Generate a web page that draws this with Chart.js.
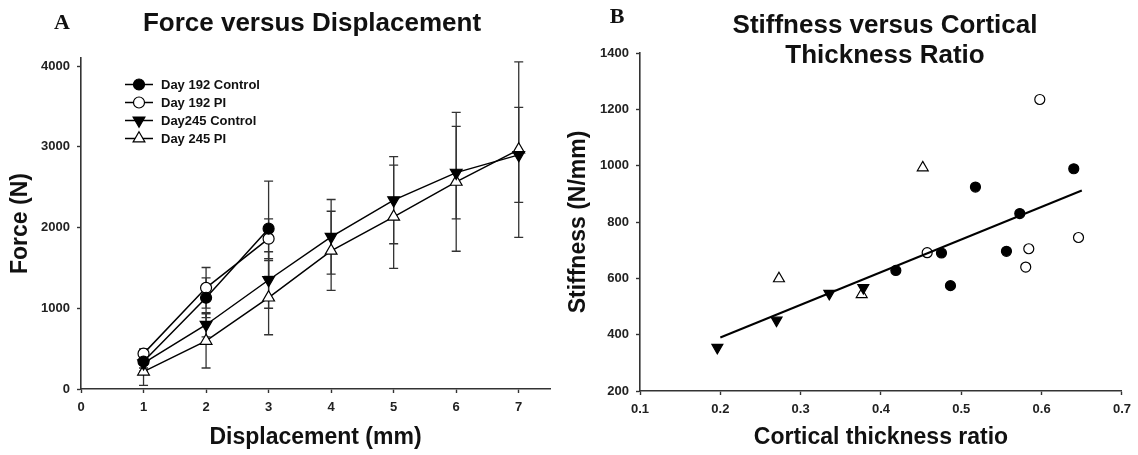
<!DOCTYPE html>
<html>
<head>
<meta charset="utf-8">
<script src="https://cdn.jsdelivr.net/npm/chart.js"></script>
<style>
  body { margin: 0; background: #fff; overflow: hidden; }
  canvas { position: absolute; top: 0; }
  #chartA { left: 0; }
  #chartB { left: 560px; }
</style>
</head>
<body>
<canvas id="chartA" width="560" height="455"></canvas>
<canvas id="chartB" width="578" height="455"></canvas>
<script>
// --- panel A: force vs displacement (mean +/- error) ---
const displacement = [1, 2, 3, 4, 5, 6, 7];
const day192Control = [340, 1130, 1986];
const day192ControlErr = [80, 246, 590];
const day192PI = [438, 1253, 1862];
const day192PIErr = [60, 252, 246];
const day245Control = [320, 796, 1350, 1885, 2339, 2680, 2900];
const day245ControlErr = [100, 150, 350, 462, 540, 573, 588];
const day245PI = [215, 596, 1132, 1712, 2133, 2566, 2966];
const day245PIErr = [170, 336, 460, 490, 640, 860, 1087];
const forceTicks = [0, 1000, 2000, 3000, 4000];
const dispTicks = [0, 1, 2, 3, 4, 5, 6, 7];

// --- panel B: stiffness vs cortical thickness ratio ---
const ctrl192Ratio = [0.4185, 0.4753, 0.4865, 0.5176, 0.5562, 0.5728, 0.64];
const ctrl192Stiff = [628, 690, 574, 924, 696, 830, 989];
const pi192Ratio = [0.4575, 0.5802, 0.584, 0.5977, 0.6459];
const pi192Stiff = [691, 640, 705, 1235, 745];
const ctrl245Ratio = [0.1963, 0.27, 0.3357, 0.378];
const ctrl245Stiff = [354, 451, 546, 567];
const pi245Ratio = [0.273, 0.376, 0.452];
const pi245Stiff = [599, 543, 993];
const fitRatio = [0.2, 0.65];
const fitStiff = [390, 912];
const stiffTicks = [200, 400, 600, 800, 1000, 1200, 1400];
const ratioTicks = [0.1, 0.2, 0.3, 0.4, 0.5, 0.6, 0.7];

const FONT = '"Liberation Sans", Arial, sans-serif';
const INK = '#111';
const AXIS = '#333';

const pts = (xs, ys) => ys.map((y, i) => ({ x: xs[i], y }));

// marker styles shared by both panels and the legend
const styles = {
  ctrl192: { shape: 'circle', rot: 0, fill: '#000' },
  pi192: { shape: 'circle', rot: 0, fill: '#fff' },
  ctrl245: { shape: 'triangle', rot: 180, fill: '#000' },
  pi245: { shape: 'triangle', rot: 0, fill: '#fff' },
};

function drawMarker(ctx, st, x, y, r) {
  ctx.beginPath();
  if (st.shape === 'circle') {
    ctx.arc(x, y, r, 0, Math.PI * 2);
  } else {
    let a = st.rot * Math.PI / 180;
    for (let k = 0; k < 3; k++) {
      const px = x + Math.sin(a) * r, py = y - Math.cos(a) * r;
      k ? ctx.lineTo(px, py) : ctx.moveTo(px, py);
      a += Math.PI * 2 / 3;
    }
    ctx.closePath();
  }
  ctx.fillStyle = st.fill;
  ctx.fill();
  ctx.lineWidth = 1.2;
  ctx.strokeStyle = '#000';
  ctx.stroke();
}

function series(label, data, st, radius, errors, line) {
  return {
    label, data, errors, legendStyle: st,
    showLine: line,
    borderColor: '#000',
    borderWidth: 1.5,
    pointStyle: st.shape,
    pointRotation: st.rot,
    pointRadius: st.shape === 'circle' ? radius : radius + 1.3,
    pointBackgroundColor: st.fill,
    pointBorderColor: '#000',
    pointBorderWidth: 1.2,
    tension: 0,
  };
}

function axis(min, max, ticks, title, size) {
  return {
    type: 'linear',
    min, max,
    afterBuildTicks: s => { s.ticks = ticks.map(v => ({ value: v })); },
    afterFit: s => { if (size.w) s.width = size.w; if (size.h) s.height = size.h; },
    border: { color: AXIS, width: 1.6 },
    grid: { drawOnChartArea: false, drawTicks: true, tickLength: 4, tickColor: AXIS, tickWidth: 1.4 },
    ticks: { color: '#222', font: { family: FONT, size: 13, weight: 'bold' }, padding: 7,
             callback: v => String(v) },
    title: { display: true, text: title, color: INK, padding: 0,
             font: { family: FONT, size: 23, weight: 'bold' } },
  };
}

// error bars behind markers
const errorBars = {
  id: 'errorBars',
  beforeDatasetsDraw(chart) {
    const ctx = chart.ctx, ys = chart.scales.y;
    ctx.save();
    ctx.strokeStyle = AXIS;
    ctx.lineWidth = 1.3;
    chart.data.datasets.forEach((ds, i) => {
      if (!ds.errors) return;
      chart.getDatasetMeta(i).data.forEach((el, j) => {
        const v = ds.data[j].y, e = ds.errors[j];
        const top = ys.getPixelForValue(v + e), bot = ys.getPixelForValue(v - e);
        ctx.beginPath();
        ctx.moveTo(el.x, top); ctx.lineTo(el.x, bot);
        ctx.moveTo(el.x - 4.5, top); ctx.lineTo(el.x + 4.5, top);
        ctx.moveTo(el.x - 4.5, bot); ctx.lineTo(el.x + 4.5, bot);
        ctx.stroke();
      });
    });
    ctx.restore();
  }
};

const lineLegend = {
  id: 'lineLegend',
  afterDraw(chart) {
    const ctx = chart.ctx;
    ctx.save();
    chart.data.datasets.forEach((ds, i) => {
      const y = 84.5 + i * 18;
      ctx.beginPath();
      ctx.moveTo(125, y); ctx.lineTo(153, y);
      ctx.lineWidth = 1.5; ctx.strokeStyle = '#000'; ctx.stroke();
      drawMarker(ctx, ds.legendStyle, 139, y, ds.legendStyle.shape === 'circle' ? 5.5 : 6.8);
      ctx.fillStyle = INK;
      ctx.font = 'bold 13px ' + FONT;
      ctx.textAlign = 'left';
      ctx.textBaseline = 'middle';
      ctx.fillText(ds.label, 161, y + 0.5);
    });
    ctx.restore();
  }
};

function labels(items) {
  return {
    id: 'labels',
    afterDraw(chart) {
      const ctx = chart.ctx;
      ctx.save();
      ctx.fillStyle = INK;
      ctx.textAlign = 'center';
      ctx.textBaseline = 'middle';
      items.forEach(t => { ctx.font = t.font; ctx.fillText(t.text, t.x, t.y); });
      ctx.restore();
    }
  };
}

const TITLE = 'bold 26px ' + FONT;
const PANEL = 'bold 22px "Liberation Serif", "Times New Roman", serif';

new Chart(document.getElementById('chartA'), {
  type: 'scatter',
  data: {
    datasets: [
      series('Day 192 Control', pts(displacement, day192Control), styles.ctrl192, 5.5, day192ControlErr, true),
      series('Day 192 PI', pts(displacement, day192PI), styles.pi192, 5.5, day192PIErr, true),
      series('Day245 Control', pts(displacement, day245Control), styles.ctrl245, 5.5, day245ControlErr, true),
      series('Day 245 PI', pts(displacement, day245PI), styles.pi245, 5.5, day245PIErr, true),
    ],
  },
  options: {
    responsive: false,
    animation: false,
    layout: { padding: { left: 7, top: 58, right: 10, bottom: 4 } },
    plugins: { legend: { display: false }, tooltip: { enabled: false } },
    scales: {
      x: axis(0, 7.5, dispTicks, 'Displacement (mm)', { h: 62 }),
      y: axis(0, 4100, forceTicks, 'Force (N)', { w: 74 }),
    },
  },
  plugins: [errorBars, lineLegend, labels([
    { text: 'A', x: 62, y: 23, font: PANEL },
    { text: 'Force versus Displacement', x: 312, y: 24, font: TITLE },
  ])],
});

new Chart(document.getElementById('chartB'), {
  type: 'scatter',
  data: {
    datasets: [
      {
        data: pts(fitRatio, fitStiff), showLine: true, borderColor: '#000',
        borderWidth: 2, pointRadius: 0,
      },
      series('Day 192 Control', pts(ctrl192Ratio, ctrl192Stiff), styles.ctrl192, 5, null, false),
      series('Day 192 PI', pts(pi192Ratio, pi192Stiff), styles.pi192, 5, null, false),
      series('Day245 Control', pts(ctrl245Ratio, ctrl245Stiff), styles.ctrl245, 5, null, false),
      series('Day 245 PI', pts(pi245Ratio, pi245Stiff), styles.pi245, 5, null, false),
    ],
  },
  options: {
    responsive: false,
    animation: false,
    layout: { padding: { left: 5, top: 53, right: 16, bottom: 4 } },
    plugins: { legend: { display: false }, tooltip: { enabled: false } },
    scales: {
      x: axis(0.1, 0.7, ratioTicks, 'Cortical thickness ratio', { h: 60 }),
      y: axis(200, 1400, stiffTicks, 'Stiffness (N/mm)', { w: 75 }),
    },
  },
  plugins: [labels([
    { text: 'B', x: 57, y: 17, font: PANEL },
    { text: 'Stiffness versus Cortical', x: 325, y: 26, font: TITLE },
    { text: 'Thickness Ratio', x: 325, y: 56, font: TITLE },
  ])],
});
</script>
</body>
</html>
